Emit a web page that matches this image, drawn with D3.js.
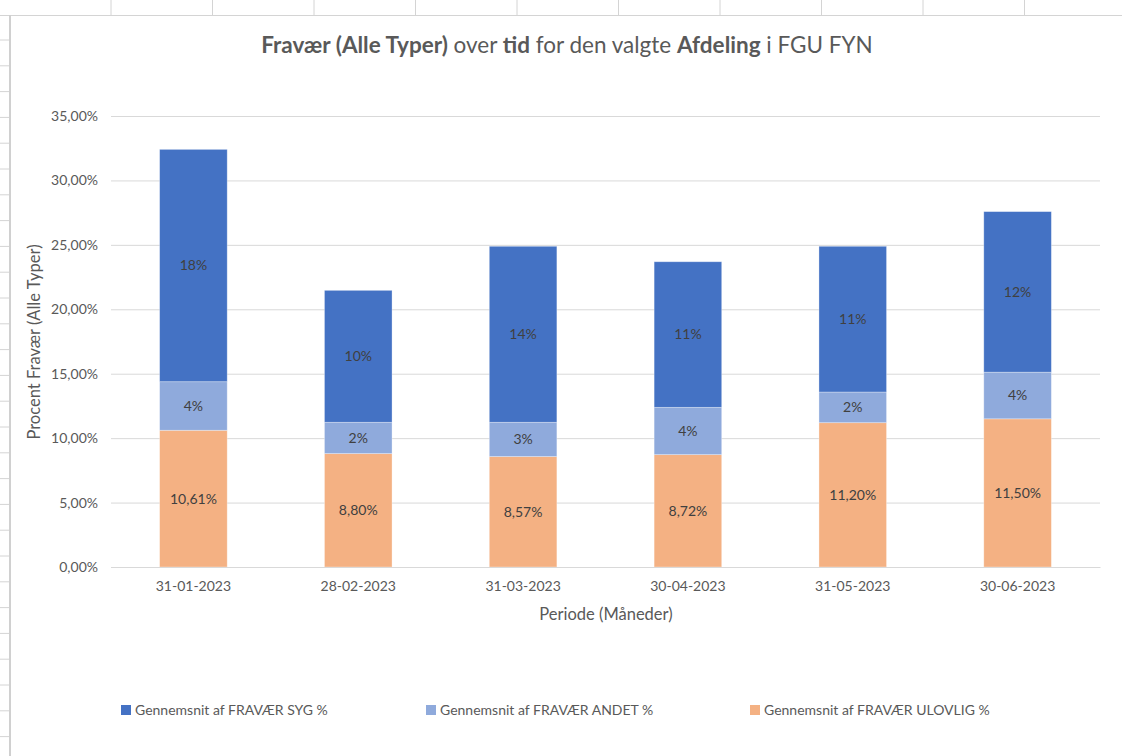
<!DOCTYPE html>
<html>
<head>
<meta charset="utf-8">
<script src="https://cdn.jsdelivr.net/npm/d3@7"></script>
<style>
  body { margin: 0; background: #fff; }
  text { font-family: Lato, "Open Sans", sans-serif; fill: #595959; }
</style>
</head>
<body>
<div id="chart"></div>
<script>
// Data (percent values)
const months = ["31-01-2023", "28-02-2023", "31-03-2023", "30-04-2023", "31-05-2023", "30-06-2023"];
const ulovlig = [10.61, 8.80, 8.57, 8.72, 11.20, 11.50];
const andet = [3.77, 2.43, 2.66, 3.67, 2.38, 3.62];
const syg = [18.03, 10.24, 13.66, 11.30, 11.31, 12.46];
const yTicks = [0, 5, 10, 15, 20, 25, 30, 35];
const seriesNames = ["Gennemsnit af FRAVÆR SYG %", "Gennemsnit af FRAVÆR ANDET %", "Gennemsnit af FRAVÆR ULOVLIG %"];

const W = 1122, H = 756;
const colors = { syg: "#4472C4", andet: "#8FAADC", ulovlig: "#F4B183" };

const locale = d3.formatLocale({ decimal: ",", thousands: ".", grouping: [3], currency: ["", " kr."] });
const fmt2 = locale.format(".2f");

const svg = d3.select("#chart").append("svg")
    .attr("width", W)
    .attr("height", H);

// Spreadsheet background bits (cell lines around the chart)
const sheet = svg.append("g").attr("stroke", "#d4d4d4").attr("stroke-width", 1);
d3.range(111, W, 101.5).forEach(x => {
    sheet.append("line").attr("x1", x).attr("x2", x).attr("y1", 0).attr("y2", 15);
});
d3.range(40, H, 25.8).forEach(y => {
    sheet.append("line").attr("x1", 0).attr("x2", 9).attr("y1", y).attr("y2", y);
});
sheet.append("line").attr("x1", 0).attr("x2", W).attr("y1", 15.5).attr("y2", 15.5);
svg.append("line").attr("x1", 10).attr("x2", 10).attr("y1", 15).attr("y2", H)
    .attr("stroke", "#d0d0d0").attr("stroke-width", 2);

// Scales
const x = d3.scaleBand()
    .domain(months)
    .range([111, 1100])
    .paddingInner(0.59)
    .paddingOuter(0.295);

const y = d3.scaleLinear()
    .domain([0, 35])
    .range([567, 116]);

// Gridlines + y axis labels
const yAxis = svg.append("g")
    .attr("transform", "translate(111,0)")
    .call(d3.axisLeft(y).tickValues(yTicks).tickSize(-(1100 - 111)).tickPadding(13)
        .tickFormat(d => fmt2(d) + "%"));
yAxis.select(".domain").remove();
yAxis.selectAll("line").attr("stroke", "#d9d9d9");
yAxis.selectAll("text").attr("font-size", 14).style("fill", "#595959");

// Stacked bars
const stackData = months.map((m, i) => ({ month: m, ulovlig: ulovlig[i], andet: andet[i], syg: syg[i] }));
const stack = d3.stack().keys(["ulovlig", "andet", "syg"]);
const layers = stack(stackData);

const g = svg.append("g");
layers.forEach(layer => {
    const key = layer.key;
    g.selectAll(".bar-" + key)
        .data(layer)
        .join("rect")
        .attr("class", "bar-" + key)
        .attr("x", d => x(d.data.month))
        .attr("width", x.bandwidth())
        .attr("y", d => y(d[1]))
        .attr("height", d => y(d[0]) - y(d[1]))
        .attr("fill", colors[key])
        .attr("stroke", "#ffffff")
        .attr("stroke-opacity", 0.4)
        .attr("stroke-width", 0.8);

    g.selectAll(".lbl-" + key)
        .data(layer)
        .join("text")
        .attr("class", "lbl-" + key)
        .attr("x", d => x(d.data.month) + x.bandwidth() / 2)
        .attr("y", d => (y(d[0]) + y(d[1])) / 2)
        .attr("dy", "0.35em")
        .attr("text-anchor", "middle")
        .attr("font-size", 14)
        .style("fill", "#404040")
        .text(d => key === "ulovlig" ? fmt2(d.data[key]) + "%" : Math.round(d.data[key]) + "%");
});

// X axis
const xAxis = svg.append("g")
    .attr("transform", "translate(0,567)")
    .call(d3.axisBottom(x).tickSize(0).tickPadding(14));
xAxis.select(".domain").attr("stroke", "#d9d9d9");
xAxis.selectAll("text").attr("font-size", 14).style("fill", "#595959");

// Axis titles
svg.append("text")
    .attr("x", 606)
    .attr("y", 620)
    .attr("text-anchor", "middle")
    .attr("font-size", 16.5)
    .text("Periode (Måneder)");

svg.append("text")
    .attr("transform", "translate(40,342) rotate(-90)")
    .attr("text-anchor", "middle")
    .attr("font-size", 16.5)
    .text("Procent Fravær (Alle Typer)");

// Title with bold parts
const title = svg.append("text")
    .attr("x", 567)
    .attr("y", 53)
    .attr("text-anchor", "middle")
    .attr("font-size", 22.5);
[["Fravær (Alle Typer)", true], [" over ", false], ["tid", true], [" for den valgte ", false],
 ["Afdeling", true], [" i FGU FYN", false]].forEach(([t, b]) => {
    title.append("tspan").attr("font-weight", b ? "bold" : "normal").text(t);
});

// Legend
const legendX = [121, 426, 750];
const legendKeys = ["syg", "andet", "ulovlig"];
const legend = svg.append("g");
legendKeys.forEach((k, i) => {
    legend.append("rect")
        .attr("x", legendX[i])
        .attr("y", 705)
        .attr("width", 10)
        .attr("height", 10)
        .attr("fill", colors[k]);
    legend.append("text")
        .attr("x", legendX[i] + 14)
        .attr("y", 715)
        .attr("font-size", 14)
        .text(seriesNames[i]);
});
</script>
</body>
</html>
